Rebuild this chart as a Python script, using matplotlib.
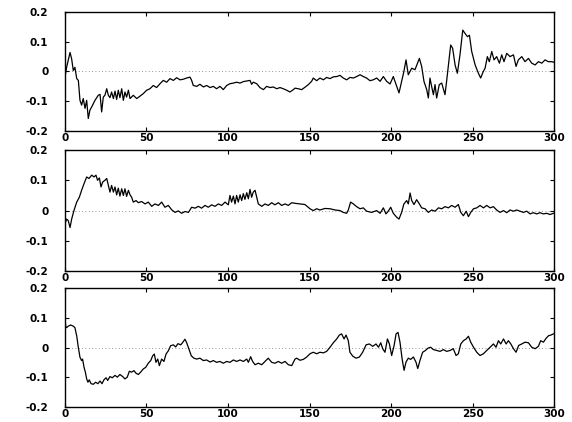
import matplotlib
matplotlib.use("Agg")
import matplotlib.pyplot as plt
import matplotlib.ticker as ticker

# ------------------------------- DATA ------------------------------- #
x1 = [0, 1.0, 3.1, 4.1, 5.1, 6.1, 7.2, 8.2, 9.2, 10.2, 11.2, 12.3, 13.3, 14.3, 15.3, 16.4, 18.4,
      20.4, 21.5, 22.5, 23.5, 24.5, 25.6, 26.6, 27.6, 28.6, 29.7, 30.7, 31.7, 32.7, 33.7, 34.8,
      35.8, 36.8, 37.8, 38.9, 39.9, 41.9, 44.0, 46.0, 48.1, 50.1, 52.1, 54.2, 56.2, 58.3, 60.3,
      62.4, 64.4, 66.5, 68.5, 70.6, 72.6, 74.6, 76.7, 77.7, 78.7, 80.8, 82.8, 84.9, 86.9, 89.0,
      91.0, 93.0, 95.1, 97.1, 99.2, 101.2, 103.3, 105.3, 107.4, 109.4, 111.5, 113.5, 114.5,
      115.5, 117.6, 119.6, 121.7, 123.7, 125.8, 127.8, 129.9, 131.9, 133.9, 136.0, 138.0, 140.1,
      141.1, 143.1, 145.2, 147.2, 149.3, 151.3, 152.3, 154.4, 156.4, 158.5, 160.5, 162.6, 164.6,
      166.7, 168.7, 170.7, 172.8, 174.8, 176.9, 178.9, 181.0, 183.0, 185.0, 187.1, 189.1, 191.2,
      193.3, 195.3, 197.3, 199.4, 201.4, 203.5, 204.9, 206.5, 207.9, 209.2, 210.6, 212.7, 214.7,
      217.4, 218.8, 220.2, 221.9, 222.9, 223.9, 224.9, 226.0, 227.0, 228.0, 229.6, 231.1, 233.1,
      234.1, 235.2, 236.6, 237.8, 239.3, 240.7, 242.3, 244.0, 245.4, 246.9, 248.1, 249.5, 251.6,
      253.6, 255.0, 256.6, 257.7, 259.1, 260.3, 261.8, 263.2, 264.8, 266.5, 267.9, 269.3, 271.0,
      273.0, 275.1, 276.7, 278.1, 280.2, 282.2, 284.3, 286.3, 288.4, 290.4, 292.5, 294.5, 296.5,
      298.6, 300.0]
y1 = [-0.019, 0.014, 0.064, 0.042, 0.003, 0.014, -0.024, -0.030, -0.097, -0.113, -0.091, -0.124,
      -0.097, -0.158, -0.130, -0.119, -0.097, -0.080, -0.077, -0.136, -0.086, -0.080, -0.058,
      -0.080, -0.088, -0.069, -0.091, -0.066, -0.094, -0.063, -0.088, -0.058, -0.097, -0.069,
      -0.086, -0.063, -0.091, -0.080, -0.091, -0.083, -0.074, -0.063, -0.058, -0.047, -0.054,
      -0.041, -0.030, -0.036, -0.024, -0.030, -0.021, -0.028, -0.026, -0.022, -0.019, -0.030,
      -0.047, -0.050, -0.043, -0.052, -0.047, -0.054, -0.050, -0.058, -0.050, -0.061, -0.047,
      -0.041, -0.039, -0.036, -0.039, -0.034, -0.032, -0.030, -0.043, -0.036, -0.041, -0.054,
      -0.061, -0.050, -0.054, -0.052, -0.058, -0.054, -0.058, -0.063, -0.069, -0.061,
      -0.056, -0.058, -0.061, -0.053, -0.044, -0.033, -0.022, -0.031, -0.022, -0.028, -0.020,
      -0.024, -0.018, -0.017, -0.013, -0.022, -0.028, -0.020, -0.022, -0.017, -0.011, -0.017,
      -0.022, -0.031, -0.028, -0.022, -0.033, -0.017, -0.033, -0.042, -0.017, -0.050, -0.072,
      -0.033, 0.0, 0.039, -0.011, 0.011, 0.006, 0.044, 0.017, -0.033, -0.061, -0.089, -0.022,
      -0.050, -0.078, -0.044, -0.089, -0.044, -0.039, -0.078, -0.033, 0.022, 0.089, 0.078, 0.022,
      -0.006, 0.056, 0.139, 0.128, 0.117, 0.122, 0.067, 0.022, -0.006, -0.022, 0.0, 0.011, 0.050,
      0.033, 0.067, 0.039, 0.050, 0.028, 0.056, 0.033, 0.061, 0.050, 0.056, 0.017, 0.039, 0.050,
      0.033, 0.044, 0.028, 0.022, 0.033, 0.028, 0.039, 0.033, 0.033, 0.031]

x2 = [0, 1.0, 2.0, 3.1, 4.1, 5.5, 7.2, 8.8, 10.2, 11.7, 13.3, 14.7, 16.4, 17.8, 19.0, 20.0, 21.1,
      22.1, 23.1, 24.5, 25.6, 26.6, 27.6, 28.6, 29.7, 30.7, 31.7, 32.7, 33.7, 34.8, 35.8, 36.8,
      37.8, 38.9, 39.9, 40.9, 41.9, 43.6, 45.0, 47.0, 49.1, 51.1, 53.2, 55.2, 57.3, 59.3, 61.3,
      63.4, 65.4, 67.5, 69.5, 71.6, 73.6, 75.7, 77.7, 79.8, 81.8, 83.8, 85.9, 87.9, 90.0, 92.0,
      94.1, 96.1, 98.2, 100.2, 101.2, 102.2, 103.3, 104.3, 105.3, 106.3, 107.4, 108.4, 109.4,
      110.4, 111.5, 112.5, 113.5, 114.5, 115.5, 116.6, 117.6, 118.6, 120.7, 122.7, 124.7, 126.8,
      128.8, 130.9, 132.9, 135.0, 137.0, 139.1, 141.1, 144.2, 147.2, 150.3, 152.3, 154.4, 156.4,
      159.5, 162.6, 165.6, 168.7, 170.7, 172.8, 173.8, 175.2, 176.9, 178.9, 181.0, 183.0, 185.0,
      188.1, 191.2, 193.3, 195.3, 196.9, 198.3, 199.8, 201.4, 203.5, 204.9, 206.5, 207.9, 209.6,
      210.6, 211.7, 212.7, 214.1, 215.7, 217.4, 218.8, 220.9, 222.9, 224.9, 227.0, 229.1, 231.1,
      233.1, 235.2, 237.2, 239.3, 241.3, 242.8, 244.4, 246.1, 247.5, 248.9, 250.6, 252.6, 254.6,
      256.7, 258.7, 260.8, 262.8, 264.8, 266.9, 269.0, 271.0, 273.0, 275.1, 277.1, 279.1, 281.2,
      283.2, 285.3, 287.3, 289.4, 291.4, 293.5, 295.5, 297.5, 299.6]
y2 = [-0.044, -0.028, -0.033, -0.056, -0.028, 0.0, 0.028, 0.044, 0.067, 0.089, 0.111, 0.106, 0.117,
      0.111, 0.117, 0.100, 0.108, 0.078, 0.094, 0.100, 0.106, 0.083, 0.061, 0.083, 0.061, 0.078,
      0.052, 0.074, 0.048, 0.072, 0.050, 0.072, 0.047, 0.067, 0.052, 0.044, 0.028, 0.033, 0.026,
      0.030, 0.022, 0.028, 0.014, 0.022, 0.017, 0.028, 0.011, 0.017, 0.003, -0.006, -0.001,
      -0.009, -0.003, -0.006, 0.011, 0.008, 0.014, 0.008, 0.017, 0.011, 0.019, 0.014, 0.022,
      0.017, 0.028, 0.019, 0.050, 0.028, 0.048, 0.022, 0.050, 0.028, 0.052, 0.033, 0.056, 0.037,
      0.059, 0.039, 0.070, 0.044, 0.061, 0.067, 0.044, 0.022, 0.014, 0.022, 0.017, 0.026, 0.019,
      0.026, 0.017, 0.022, 0.017, 0.026, 0.024, 0.022, 0.020, 0.006, 0.0, 0.006, 0.002, 0.007,
      0.006, 0.002, 0.0, -0.006, -0.009, 0.002, 0.028, 0.022, 0.013, 0.006, 0.009, -0.002,
      -0.006, 0.0, -0.009, 0.009, -0.011, -0.002, 0.011, -0.009, -0.022, -0.028, -0.006, 0.022,
      0.033, 0.022, 0.058, 0.033, 0.020, 0.036, 0.022, 0.009, 0.006, -0.006, 0.002, -0.002,
      0.009, 0.006, 0.013, 0.009, 0.017, 0.011, 0.020, -0.006, -0.017, -0.002, -0.020, -0.006,
      0.006, 0.009, 0.017, 0.009, 0.017, 0.009, 0.013, 0.002, -0.006, 0.0, -0.007, 0.002, -0.002,
      0.002, -0.002, -0.006, -0.002, -0.011, -0.007, -0.011, -0.007, -0.011, -0.009, -0.013,
      -0.009]

x3 = [0, 0.5, 1.0, 2.0, 3.5, 5.1, 6.1, 7.2, 8.2, 9.2, 10.2, 10.8, 11.7, 12.5, 13.3, 14.1, 14.9,
      16.0, 17.4, 18.8, 20.2, 21.5, 22.7, 23.9, 25.2, 26.2, 27.6, 29.0, 30.7, 32.1, 33.7, 35.4,
      36.8, 38.2, 39.5, 40.9, 42.3, 43.6, 45.0, 46.4, 48.1, 49.5, 51.1, 52.6, 53.8, 54.8, 55.8,
      56.9, 57.9, 59.3, 60.7, 62.0, 63.4, 64.8, 66.5, 67.9, 69.3, 71.0, 72.2, 73.6, 74.6, 76.1,
      77.5, 79.1, 80.8, 82.8, 84.9, 86.9, 89.0, 91.0, 93.0, 95.1, 97.1, 99.2, 101.2, 103.3, 105.3,
      107.4, 109.4, 111.5, 112.5, 113.9, 115.1, 116.6, 118.6, 120.7, 122.7, 124.7, 126.8, 128.8,
      130.9, 132.9, 135.0, 137.0, 139.1, 141.1, 142.1, 144.2, 146.2, 148.3, 150.3, 152.3, 154.4,
      156.4, 158.5, 160.5, 162.6, 164.6, 166.7, 168.3, 169.7, 171.2, 172.4, 173.8, 174.8, 176.5,
      178.5, 180.6, 182.6, 184.7, 186.7, 188.8, 190.8, 192.3, 193.7, 194.9, 196.3, 197.8, 199.0,
      200.4, 201.9, 203.1, 204.3, 205.5, 206.8, 208.0, 209.2, 210.6, 212.1, 213.7, 215.3, 216.4,
      217.8, 219.4, 221.1, 222.7, 224.3, 226.0, 228.0, 230.1, 232.1, 234.1, 236.2, 238.2, 239.9,
      241.3, 242.8, 244.4, 246.1, 247.5, 248.9, 250.6, 252.6, 254.6, 256.7, 258.7, 260.8, 262.8,
      264.4, 265.9, 267.3, 269.0, 270.6, 272.0, 273.5, 275.1, 276.7, 278.3, 280.2, 282.2, 284.3,
      286.3, 288.4, 290.4, 291.8, 293.5, 295.1, 296.7, 298.1, 299.6]
y3 = [0.100, 0.070, 0.067, 0.072, 0.076, 0.072, 0.067, 0.039, 0.0, -0.033, -0.044, -0.039, -0.067,
      -0.083, -0.106, -0.117, -0.109, -0.122, -0.124, -0.117, -0.122, -0.113, -0.122, -0.109,
      -0.102, -0.111, -0.098, -0.102, -0.094, -0.100, -0.091, -0.098, -0.106, -0.100, -0.080,
      -0.083, -0.078, -0.087, -0.091, -0.083, -0.072, -0.067, -0.053, -0.044, -0.028, -0.022,
      -0.050, -0.039, -0.061, -0.039, -0.047, -0.022, -0.011, 0.006, 0.009, 0.002, 0.013, 0.009,
      0.017, 0.028, 0.017, -0.006, -0.028, -0.036, -0.039, -0.036, -0.044, -0.042, -0.049,
      -0.044, -0.050, -0.047, -0.053, -0.047, -0.050, -0.042, -0.047, -0.042, -0.047, -0.039,
      -0.050, -0.031, -0.047, -0.058, -0.053, -0.058, -0.047, -0.036, -0.050, -0.053, -0.047,
      -0.053, -0.047, -0.058, -0.061, -0.039, -0.036, -0.043, -0.040, -0.032, -0.021, -0.016,
      -0.021, -0.016, -0.018, -0.013, 0.001, 0.016, 0.029, 0.042, 0.046, 0.029, 0.042, 0.023,
      -0.016, -0.029, -0.036, -0.032, -0.016, 0.009, 0.012, 0.004, 0.012, 0.001, 0.016, -0.004,
      -0.016, 0.029, 0.012, -0.027, 0.007, 0.046, 0.051, 0.018, -0.038, -0.077, -0.049, -0.036,
      -0.040, -0.032, -0.049, -0.071, -0.043, -0.016, -0.010, -0.002, 0.001, -0.007, -0.010,
      -0.013, -0.007, -0.013, -0.010, -0.004, -0.027, -0.021, 0.012, 0.023, 0.029, 0.038, 0.018,
      0.001, -0.016, -0.027, -0.021, -0.010, 0.001, 0.012, 0.001, 0.023, 0.012, 0.029, 0.012,
      0.023, 0.012, -0.004, -0.016, 0.007, 0.012, 0.018, 0.016, 0.001, -0.004, 0.004, 0.023,
      0.018, 0.031, 0.040, 0.042, 0.046]

series = [(x1, y1), (x2, y2), (x3, y3)]
x_ticks = [0, 50, 100, 150, 200, 250, 300]
y_ticks = [-0.2, -0.1, 0, 0.1, 0.2]

# ---------------------------------------- FIGURE ---------------------------------------- #
plt.rcParams['axes.unicode_minus'] = False
plt.rcParams['font.family'] = 'DejaVu Sans'
plt.rcParams['font.weight'] = 'bold'

fig = plt.figure(figsize=(5.72, 4.22), dpi=100)
# axes boxes in figure fractions: (left, bottom, width, height)
boxes = [(0.1136, 0.6896, 0.855, 0.282),
         (0.1136, 0.3575, 0.855, 0.287),
         (0.1136, 0.0360, 0.855, 0.281)]


def y_fmt(v, pos):
    if abs(v) < 1e-9:
        return "0"
    return f"{v:.1f}"


for (xs, ys), box in zip(series, boxes):
    ax = fig.add_axes(box)
    ax.axhline(0, color='0.45', linestyle=(0, (1, 3)), linewidth=0.6, zorder=1)
    ax.plot(xs, ys, color='black', linewidth=0.9, zorder=2)
    ax.set_xlim(0, 300)
    ax.set_ylim(-0.2, 0.2)
    ax.set_xticks(x_ticks)
    ax.set_yticks(y_ticks)
    ax.yaxis.set_major_formatter(ticker.FuncFormatter(y_fmt))
    ax.tick_params(direction='in', length=3, width=0.8, top=True, right=True,
                   labelsize=7.5, colors='black')
    ax.tick_params(axis='y', pad=12)
    ax.tick_params(axis='x', pad=1.5)
    for s in ax.spines.values():
        s.set_linewidth(1.0)
        s.set_color('black')

fig.savefig('out.png', dpi=100)
